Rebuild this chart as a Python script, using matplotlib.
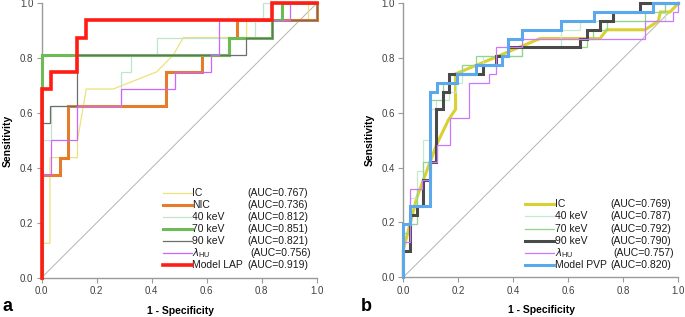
# roc_panels.py
# Two ROC panels (LAP / PVP)
import matplotlib
matplotlib.use("Agg")
import matplotlib.pyplot as plt

plt.rcParams['font.family'] = ['Liberation Sans', 'DejaVu Sans']

# --- panel a: late arterial phase ---
a_ic_x = [0, 0, 0.03, 0.03, 0.13, 0.13, 0.162, 0.26, 0.418, 0.479, 0.515, 0.745, 0.745, 0.97, 0.97, 1]
a_ic_y = [0, 0.125, 0.125, 0.4375, 0.4375, 0.5, 0.6875, 0.6875, 0.75, 0.8125, 0.875, 0.875, 0.9375, 0.9375, 1, 1]

a_nic_x = [0, 0, 0.066, 0.066, 0.097, 0.097, 0.451, 0.451, 0.584, 0.584, 0.681, 0.681, 0.711, 0.711, 1, 1]
a_nic_y = [0, 0.375, 0.375, 0.4375, 0.4375, 0.625, 0.625, 0.75, 0.75, 0.8125, 0.8125, 0.875, 0.875, 0.9375, 0.9375, 1]

a_40_x = [0, 0, 0.033, 0.033, 0.29, 0.29, 0.324, 0.324, 0.418, 0.418, 0.776, 0.776, 0.806, 0.806, 1]
a_40_y = [0, 0.5, 0.5, 0.625, 0.625, 0.75, 0.75, 0.8125, 0.8125, 0.875, 0.875, 0.9375, 0.9375, 1, 1]

a_70_x = [0, 0, 0.681, 0.681, 0.839, 0.839, 0.873, 0.873, 1]
a_70_y = [0, 0.8125, 0.8125, 0.875, 0.875, 0.9375, 0.9375, 1, 1]

a_90_x = [0, 0, 0.03, 0.03, 0.13, 0.13, 0.743, 0.743, 0.839, 0.839, 1, 1]
a_90_y = [0, 0.5625, 0.5625, 0.625, 0.625, 0.8125, 0.8125, 0.875, 0.875, 0.9375, 0.9375, 1]

a_lam_x = [0, 0, 0.032, 0.032, 0.13, 0.13, 0.29, 0.29, 0.484, 0.484, 0.614, 0.614, 0.646, 0.646, 0.903, 0.903, 1]
a_lam_y = [0, 0.375, 0.375, 0.5, 0.5, 0.625, 0.625, 0.6875, 0.6875, 0.75, 0.75, 0.8125, 0.8125, 0.9375, 0.9375, 1, 1]

a_lap_x = [0, 0, 0.035, 0.035, 0.129, 0.129, 0.162, 0.162, 0.839, 0.839, 1]
a_lap_y = [0, 0.6875, 0.6875, 0.75, 0.75, 0.875, 0.875, 0.9375, 0.9375, 1, 1]

a_labels = ["IC", "NIC", "40 keV", "70 keV", "90 keV", r"$\lambda_{\mathregular{HU}}$", "Model LAP"]
a_auc = [0.767, 0.736, 0.812, 0.851, 0.821, 0.756, 0.919]

# --- panel b: portal venous phase ---
b_ic_x = [0, 0, 0.049, 0.097, 0.121, 0.164, 0.19, 0.19, 0.497, 0.715, 0.74, 0.879, 0.927, 0.935, 0.97, 1]
b_ic_y = [0, 0.1, 0.29, 0.42, 0.484, 0.574, 0.613, 0.742, 0.871, 0.871, 0.903, 0.903, 0.935, 0.968, 0.968, 1]

b_40_x = [0, 0, 0.024, 0.024, 0.049, 0.049, 0.073, 0.073, 0.097, 0.097, 0.119, 0.119, 0.167, 0.167, 0.19, 0.19,
          0.214, 0.214, 0.29, 0.29, 0.43, 0.43, 0.572, 0.572, 0.643, 0.643, 0.95, 0.95, 1]
b_40_y = [0, 0.129, 0.129, 0.29, 0.29, 0.387, 0.387, 0.5, 0.5, 0.613, 0.613, 0.645, 0.645, 0.677, 0.677, 0.71,
          0.71, 0.774, 0.774, 0.806, 0.806, 0.839, 0.839, 0.903, 0.903, 0.935, 0.935, 1, 1]

b_70_x = [0, 0, 0.024, 0.024, 0.049, 0.049, 0.073, 0.073, 0.097, 0.097, 0.143, 0.143, 0.19, 0.19, 0.214, 0.214,
          0.264, 0.264, 0.43, 0.43, 0.667, 0.667, 0.69, 0.69, 0.74, 0.74, 0.88, 0.88, 0.95, 0.95, 1]
b_70_y = [0, 0.161, 0.161, 0.194, 0.194, 0.323, 0.323, 0.419, 0.419, 0.645, 0.645, 0.71, 0.71, 0.742, 0.742, 0.774,
          0.774, 0.806, 0.806, 0.839, 0.839, 0.871, 0.871, 0.903, 0.903, 0.935, 0.935, 0.968, 0.968, 1, 1]

b_90_x = [0, 0, 0.024, 0.024, 0.049, 0.049, 0.073, 0.073, 0.097, 0.097, 0.119, 0.119, 0.143, 0.143, 0.167, 0.167,
          0.289, 0.289, 0.336, 0.336, 0.382, 0.382, 0.643, 0.643, 0.667, 0.667, 0.715, 0.715, 0.764, 0.764,
          0.861, 0.861, 1]
b_90_y = [0, 0.097, 0.097, 0.226, 0.226, 0.258, 0.258, 0.355, 0.355, 0.419, 0.419, 0.613, 0.613, 0.677, 0.677, 0.742,
          0.742, 0.774, 0.774, 0.806, 0.806, 0.839, 0.839, 0.871, 0.871, 0.903, 0.903, 0.935, 0.935, 0.968,
          0.968, 1, 1]

b_lam_x = [0, 0, 0.024, 0.024, 0.067, 0.067, 0.097, 0.097, 0.121, 0.121, 0.17, 0.17, 0.24, 0.24, 0.312, 0.312,
           0.336, 0.336, 0.43, 0.43, 0.879, 0.879, 0.98, 0.98, 1, 1]
b_lam_y = [0, 0.129, 0.129, 0.323, 0.323, 0.355, 0.355, 0.419, 0.419, 0.484, 0.484, 0.58, 0.58, 0.71, 0.71, 0.742,
           0.742, 0.839, 0.839, 0.871, 0.871, 0.935, 0.935, 0.968, 0.968, 1]

b_pvp_x = [0, 0, 0.024, 0.024, 0.097, 0.097, 0.121, 0.121, 0.194, 0.194, 0.264, 0.264, 0.36, 0.36, 0.382, 0.382,
           0.43, 0.43, 0.572, 0.572, 0.693, 0.693, 0.907, 0.907, 1]
b_pvp_y = [0, 0.194, 0.194, 0.258, 0.258, 0.677, 0.677, 0.71, 0.71, 0.742, 0.742, 0.774, 0.774, 0.806, 0.806, 0.871,
           0.871, 0.903, 0.903, 0.935, 0.935, 0.968, 0.968, 1, 1]

b_labels = ["IC", "40 keV", "70 keV", "90 keV", r"$\lambda_{\mathregular{HU}}$", "Model PVP"]
b_auc = [0.769, 0.787, 0.792, 0.790, 0.757, 0.820]

ticks = [0.0, 0.2, 0.4, 0.6, 0.8, 1.0]

# styles: (colour, linewidth)
a_styles = [("#ece27a", 0.9), ("#e47c2c", 2.2), ("#bfe6cc", 0.9), ("#6cbc55", 2.2),
            ("#6e6e6e", 0.9), ("#cc66ff", 0.9), ("#ff1c14", 2.6)]
b_styles = [("#d9d131", 2.2), ("#c2ead0", 0.9), ("#8fd68c", 0.9), ("#4a4a4a", 2.2),
            ("#cc77ff", 0.9), ("#5ba9ec", 2.2)]

a_curves = [(a_ic_x, a_ic_y), (a_nic_x, a_nic_y), (a_40_x, a_40_y), (a_70_x, a_70_y),
            (a_90_x, a_90_y), (a_lam_x, a_lam_y), (a_lap_x, a_lap_y)]
b_curves = [(b_ic_x, b_ic_y), (b_40_x, b_40_y), (b_70_x, b_70_y), (b_90_x, b_90_y),
            (b_lam_x, b_lam_y), (b_pvp_x, b_pvp_y)]

fig = plt.figure(figsize=(6.85, 3.17), dpi=100)
ax_a = fig.add_axes([0.0609, 0.1243, 0.4015, 0.8653])
ax_b = fig.add_axes([0.5888, 0.1256, 0.4015, 0.8643])


def draw_panel(ax, curves, styles, labels, aucs, leg_x, leg_y0, auc_x):
    ax.plot([0, 1], [0, 1], color="#b4b4b4", lw=0.7, zorder=1)
    for (xs, ys), (c, lw) in zip(curves, styles):
        ax.plot(xs, ys, color=c, lw=lw, clip_on=False, zorder=3,
                solid_joinstyle='miter')
    ax.set_xlim(0, 1)
    ax.set_ylim(0, 1)
    ax.set_xticks(ticks)
    ax.set_yticks(ticks)
    ax.set_xticklabels([f"{t:.1f}" for t in ticks])
    ax.set_yticklabels([f"{t:.1f}" for t in ticks])
    for s in ["top", "right"]:
        ax.spines[s].set_visible(False)
    for s in ["left", "bottom"]:
        ax.spines[s].set_color("#9a9a9a")
        ax.spines[s].set_linewidth(1.0)
    ax.tick_params(direction="out", length=3.5, width=0.8, color="#9a9a9a",
                   labelsize=7, labelcolor="#404040", pad=2.5)
    ax.set_xlabel("1 - Specificity", fontsize=7.5, fontweight="bold",
                  va="center", ha="center")
    ax.set_ylabel("Sensitivity", fontsize=7.5, fontweight="bold",
                  va="center", ha="center")
    ax.xaxis.set_label_coords(0.503, -0.121)
    ax.yaxis.set_label_coords(-0.1225, 0.5)

    # hand-placed legend with AUC column
    step = 0.0442
    for i, ((c, lw), lab, auc) in enumerate(zip(styles, labels, aucs)):
        y = leg_y0 - i * step
        ax.plot([leg_x, leg_x + 0.105], [y, y], color=c, lw=lw,
                transform=ax.transAxes, clip_on=False, zorder=4)
        ax.text(leg_x + 0.107, y, lab, transform=ax.transAxes, fontsize=7.5,
                va="center", ha="left", color="#1a1a1a")
        dx = 0.01 if "lambda" in lab else 0.0
        ax.text(auc_x + dx, y, f"(AUC={auc:.3f})", transform=ax.transAxes,
                fontsize=7.5, va="center", ha="left", color="#1a1a1a")


draw_panel(ax_a, a_curves, a_styles, a_labels, a_auc, 0.441, 0.31, 0.748)
draw_panel(ax_b, b_curves, b_styles, b_labels, b_auc, 0.443, 0.266, 0.753)

fig.text(0.003, 0.005, "a", fontsize=13, fontweight="bold", va="bottom", ha="left")
fig.text(0.527, 0.005, "b", fontsize=13, fontweight="bold", va="bottom", ha="left")

fig.savefig("out.png", dpi=100)
